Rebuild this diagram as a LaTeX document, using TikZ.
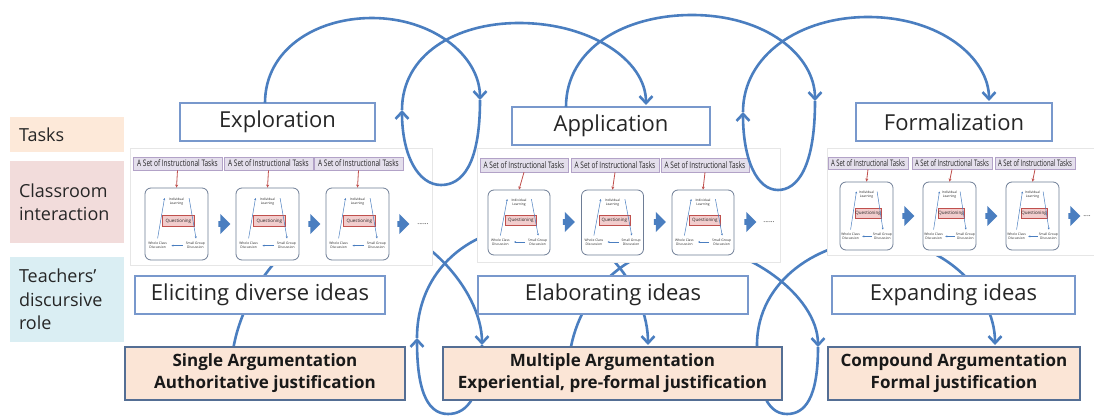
\documentclass[tikz,border=0pt]{standalone}
\usepackage{fontspec}
\setmainfont{Open Sans}
\usepackage{graphicx}
\usetikzlibrary{arrows.meta,calc,shapes.arrows}

\definecolor{flowblue}{RGB}{74,126,192}
\definecolor{boxblue}{RGB}{120,152,204}
\definecolor{argfill}{RGB}{251,229,214}
\definecolor{argedge}{RGB}{84,110,148}
\definecolor{taskfill}{RGB}{253,233,217}
\definecolor{classfill}{RGB}{242,220,219}
\definecolor{rolefill}{RGB}{218,238,243}
\definecolor{lavfill}{RGB}{228,223,236}
\definecolor{lavedge}{RGB}{178,162,199}
\definecolor{redarr}{RGB}{192,80,77}
\definecolor{qfill}{RGB}{242,205,205}
\definecolor{miniedge}{RGB}{110,125,150}
\definecolor{panelline}{RGB}{230,230,230}
\definecolor{txt}{RGB}{38,38,38}

\newcommand\tasktxt[1]{\scalebox{#1}[1]{A Set of Instructional Tasks}}
% #1 name, #2 cx, #3 cy, #4 width, #5 height
\newcommand\ibox[5]{%
  \node[ibx, minimum width=#4pt, minimum height=#5pt] (#1) at (#2,#3) {};
  \node[itxt] (#1-il) at ($(#1.center)+(0,{-0.31*#5})$) {Individual\\Learning};
  \node[qbox, minimum width={0.5*#4pt}, minimum height={0.15*#5pt}] (#1-q) at ($(#1.center)+({0.03*#4},{-0.04*#5})$) {Questioning};
  \node[itxt] (#1-wc) at ($(#1.center)+({-0.3*#4},{0.3*#5})$) {Whole Class\\Discussion};
  \node[itxt] (#1-sg) at ($(#1.center)+({0.3*#4},{0.3*#5})$) {Small Group\\Discussion};
  \coordinate (#1-l1) at ($(#1.center)+({-0.3*#4},{0.2*#5})$);
  \coordinate (#1-l2) at ($(#1.center)+({-0.19*#4},{-0.36*#5})$);
  \coordinate (#1-r1) at ($(#1.center)+({0.2*#4},{-0.36*#5})$);
  \coordinate (#1-r2) at ($(#1.center)+({0.31*#4},{0.2*#5})$);
  \coordinate (#1-b1) at ($(#1.center)+({0.1*#4},{0.3*#5})$);
  \coordinate (#1-b2) at ($(#1.center)+({-0.08*#4},{0.3*#5})$);
  \draw[tinyarr] (#1-l1) -- (#1-l2);
  \draw[tinyarr] (#1-r1) -- (#1-r2);
  \draw[tinyarr] (#1-b1) -- (#1-b2);
}

\begin{document}
\begin{tikzpicture}[x=1pt,y=-1pt,
  stagebox/.style={draw=boxblue, line width=1.1pt, fill=white, text=txt,
    font=\fontsize{22}{26}\selectfont, inner sep=0pt},
  argbox/.style={draw=argedge, line width=1.4pt, fill=argfill, text=black!90,
    font=\bfseries\fontsize{17}{22}\selectfont, align=center, inner sep=0pt},
  sidebox/.style={minimum width=114pt, inner sep=0pt, text width=96pt, align=left,
    font=\fontsize{18}{23.5}\selectfont, text=txt},
  panel/.style={draw=panelline, line width=0.8pt, fill=white, inner sep=0pt},
  tasklabel/.style={draw=lavedge, line width=0.6pt, fill=lavfill, inner sep=0pt,
    font=\fontsize{9}{10}\selectfont, text=txt},
  ibx/.style={draw=miniedge, line width=0.8pt, rounded corners=6pt, fill=white, inner sep=0pt},
  itxt/.style={font=\fontsize{3.3}{3.8}\selectfont, align=center, inner sep=0pt, text=txt},
  qbox/.style={draw=redarr, line width=0.5pt, fill=qfill, font=\fontsize{4.5}{5}\selectfont, inner sep=0pt, text=txt},
  tinyarr/.style={draw=flowblue, line width=0.5pt, -{Stealth[length=2pt,width=2pt]}},
  redlink/.style={draw=redarr, line width=0.8pt, -{Stealth[length=3pt,width=3pt]}},
  blockarr/.style={single arrow, fill=flowblue, draw=none, minimum height=12pt,
    minimum width=11pt, inner sep=0pt},
  dotsf/.style={font=\fontsize{7}{8}\selectfont, inner sep=0pt, text=txt},
  flow/.style={draw=flowblue, line width=2.6pt},
  flowtip/.style={flow, -{Straight Barb[length=7pt,width=13pt]}}
]
\useasboundingbox (0,0) rectangle (1094,417);
\fill[white] (0,0) rectangle (1094,417);

% ---------- side labels
\node[sidebox, fill=taskfill, minimum height=35pt] (tasks) at (67,134.5) {Tasks};
\node[sidebox, fill=classfill, minimum height=82pt] (class) at (67,202) {Classroom\\interaction};
\node[sidebox, fill=rolefill, minimum height=85pt] (role) at (67,299.5) {Teachers’\\discursive\\role};

% ---------- coordinates of the spirals
\coordinate (a1s) at (265,103);
\coordinate (a1p) at (372,18);
\coordinate (a1e) at (480,100);
\coordinate (l1b) at (441,185);
\coordinate (a2s) at (402,110);
\coordinate (a2p) at (519,23);
\coordinate (a2e) at (646,105);
\coordinate (a3s) at (566,107);
\coordinate (a3p) at (692,15);
\coordinate (a3e) at (815,101);
\coordinate (l2b) at (778,190);
\coordinate (a4s) at (743,112);
\coordinate (a4p) at (868,17);
\coordinate (a4e) at (989,101);

\coordinate (b1s) at (232,360);
\coordinate (b1p) at (355,220);
\coordinate (b1e) at (482,345);
\coordinate (l3b) at (448,414);
\coordinate (b2s) at (417,338);
\coordinate (b2p) at (540,225);
\coordinate (b2e) at (648,345);
\coordinate (b3s) at (570,352);
\coordinate (b3p) at (690,245);
\coordinate (b3e) at (818,347);
\coordinate (l4b) at (787,414);
\coordinate (b4s) at (757,345);
\coordinate (b4p) at (880,240);
\coordinate (b4e) at (995,345);

% ---------- lower spiral (behind panels and boxes)
\draw[flowtip] (b1s) .. controls (236,300) and (290,220) .. (b1p) .. controls (420,220) and (482,290) .. (b1e);
\draw[flowtip] (b1e) .. controls (482,395) and (468,414) .. (l3b) .. controls (425,414) and (417,385) .. (b2s);
\draw[flowtip] (b2s) .. controls (417,270) and (470,225) .. (b2p) .. controls (600,225) and (648,290) .. (b2e);
\draw[flowtip] (b3s) .. controls (580,290) and (630,245) .. (b3p) .. controls (745,245) and (818,295) .. (b3e);
\draw[flow] (b3e) .. controls (818,398) and (805,414) .. (l4b) .. controls (765,414) and (757,385) .. (b4s);
\draw[flowtip] (b4s) .. controls (757,280) and (820,240) .. (b4p) .. controls (940,240) and (995,290) .. (b4e);

% ---------- panels
\node[panel, minimum width=302pt, minimum height=117pt] (p1) at (281,206.5) {};
\node[panel, minimum width=303pt, minimum height=114pt] (p2) at (628.5,205) {};
\node[panel, minimum width=273pt, minimum height=107pt] (p3) at (963.5,201.5) {};

% panel 1
\foreach \i/\lx/\bx in {1/177.5/176.5, 2/268.5/267.5, 3/358.5/357.5}{
  \node[tasklabel, minimum width=89pt, minimum height=13pt] (ta1\i) at (\lx,163.5) {\tasktxt{0.72}};
  \ibox{ib1\i}{\bx}{224}{63}{72}
  \draw[redlink] (ta1\i.south) -- (ib1\i.north);
}
\foreach \i/\ax in {1/223,2/313,3/402}{\node[blockarr] (ba1\i) at (\ax,224) {\rule{0pt}{5.5pt}};}
\node[dotsf] (dots1) at (423,224) {......};

% panel 2
\foreach \i/\lx/\bx in {1/524/519, 2/615/612.5, 3/705/703}{
  \node[tasklabel, minimum width=88pt, minimum height=14pt] (ta2\i) at (\lx,165) {\tasktxt{0.72}};
  \ibox{ib2\i}{\bx}{222.5}{62}{65}
  \draw[redlink] (ta2\i.south) -- (ib2\i.north);
}
\foreach \i/\ax in {1/567.5,2/658.5,3/749}{\node[blockarr] (ba2\i) at (\ax,222) {\rule{0pt}{5.5pt}};}
\node[dotsf] (dots2) at (769,222) {......};

% panel 3
\foreach \i/\lx/\bx in {1/868/866.5, 2/952/949.5, 3/1035/1032.5}{
  \node[tasklabel, minimum width=80pt, minimum height=12pt] (ta3\i) at (\lx,163) {\tasktxt{0.66}};
  \ibox{ib3\i}{\bx}{216}{53}{68}
  \draw[redlink] (ta3\i.south) -- (ib3\i.north);
}
\foreach \i/\ax in {1/907,2/990,3/1073}{\node[blockarr] (ba3\i) at (\ax,216) {\rule{0pt}{5.5pt}};}
\node[dotsf] (dots3) at (1087,216) {....};

% ---------- stage boxes
\node[stagebox, minimum width=195pt, minimum height=38pt] (explo) at (277.5,122) {Exploration};
\node[stagebox, minimum width=198pt, minimum height=38pt] (appl) at (611,126) {Application};
\node[stagebox, minimum width=196pt, minimum height=38pt] (formal) at (954,122) {Formalization};

% ---------- role boxes
\node[stagebox, minimum width=250pt, minimum height=38pt] (elicit) at (260,295) {Eliciting diverse ideas};
\node[stagebox, minimum width=270pt, minimum height=38pt] (elab) at (613,295) {Elaborating ideas};
\node[stagebox, minimum width=243pt, minimum height=38pt] (expand) at (953.5,295) {Expanding ideas};

% ---------- argumentation boxes
\node[argbox, minimum width=280pt, minimum height=53pt] (single) at (265,373.5) {Single Argumentation\\Authoritative justification};
\node[argbox, minimum width=339pt, minimum height=53pt] (multiple) at (612.5,373.5) {Multiple Argumentation\\Experiential, pre-formal justification};
\node[argbox, minimum width=252pt, minimum height=53pt] (compound) at (954,373.5) {Compound Argumentation\\Formal justification};

% ---------- upper spiral (on top)
\draw[flowtip] (a1s) .. controls (265,50) and (315,18) .. (a1p) .. controls (432,18) and (480,55) .. (a1e);
\draw[flowtip] (a1e) .. controls (480,165) and (462,185) .. (l1b) .. controls (418,185) and (402,155) .. (a2s);
\draw[flowtip] (a2s) .. controls (402,55) and (455,23) .. (a2p) .. controls (590,23) and (646,60) .. (a2e);
\draw[flowtip] (a3s) .. controls (566,48) and (625,15) .. (a3p) .. controls (765,15) and (815,55) .. (a3e);
\draw[flowtip] (a3e) .. controls (815,168) and (797,190) .. (l2b) .. controls (757,190) and (743,160) .. (a4s);
\draw[flowtip] (a4s) .. controls (743,55) and (800,17) .. (a4p) .. controls (940,17) and (989,58) .. (a4e);
\end{tikzpicture}
\end{document}
